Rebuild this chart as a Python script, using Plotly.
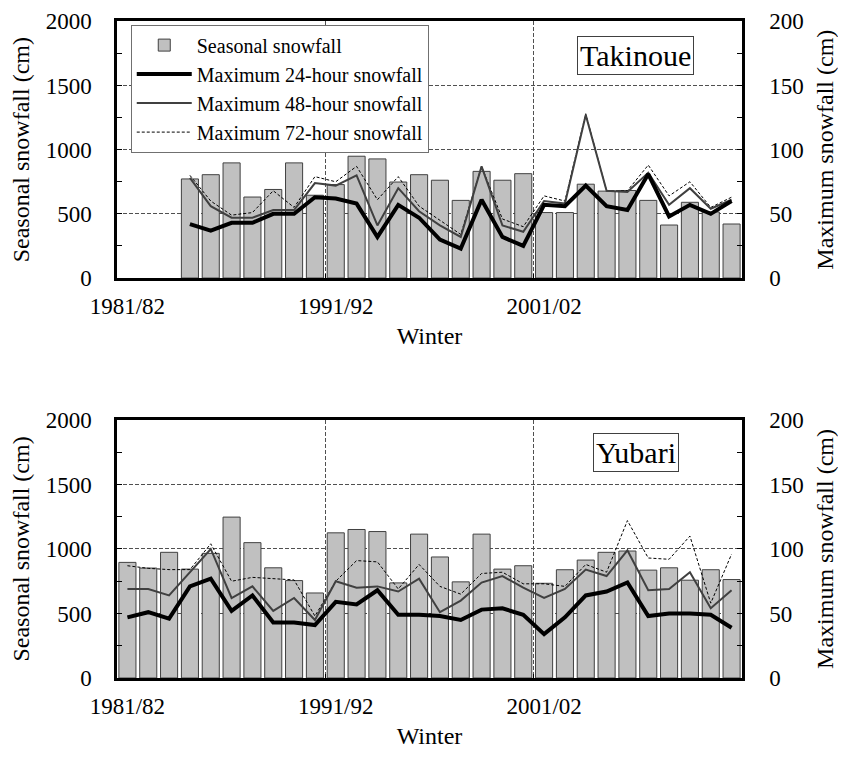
import plotly.graph_objects as go

winters = ["1981/82", "1982/83", "1983/84", "1984/85", "1985/86", "1986/87", "1987/88", "1988/89",
           "1989/90", "1990/91", "1991/92", "1992/93", "1993/94", "1994/95", "1995/96", "1996/97",
           "1997/98", "1998/99", "1999/00", "2000/01", "2001/02", "2002/03", "2003/04", "2004/05",
           "2005/06", "2006/07", "2007/08", "2008/09", "2009/10", "2010/11"]
idx = list(range(len(winters)))

# Takinoue (no record for the first three winters)
tak_season = [None, None, None, 772, 805, 897, 631, 690, 897, 645, 728, 949, 928, 748, 805,
              762, 605, 831, 762, 813, 510, 510, 731, 677, 682, 605, 413, 590, 515, 421]
tak_24h = [None, None, None, 42, 37, 43, 43, 50, 50, 63, 62, 58, 32, 57, 47,
           30, 23, 61, 32, 25, 57, 56, 72, 56, 53, 81, 48, 57, 50, 60]
tak_48h = [None, None, None, 78, 56, 47, 47, 53, 53, 74, 72, 80, 41, 70, 52,
           41, 32, 87, 41, 36, 60, 58, 127, 68, 67, 82, 57, 70, 54, 61]
tak_72h = [None, None, None, 80, 60, 49, 51, 68, 55, 79, 75, 87, 61, 79, 56,
           45, 34, 87, 46, 40, 64, 60, 128, 68, 68, 88, 64, 75, 55, 63]

# Yubari
yub_season = [896, 852, 974, 844, 966, 1247, 1049, 854, 755, 659, 1125, 1151, 1135, 737, 1115,
              938, 745, 1115, 844, 870, 734, 839, 914, 974, 984, 836, 854, 758, 839, 763]
yub_24h = [47, 51, 46, 71, 77, 52, 64, 43, 43, 41, 59, 57, 68, 49, 49,
           48, 45, 53, 54, 49, 34, 47, 64, 67, 74, 48, 50, 50, 49, 39]
yub_48h = [69, 69, 64, 82, 100, 62, 71, 52, 62, 45, 75, 70, 71, 67, 77,
           51, 60, 74, 79, 70, 62, 69, 84, 79, 99, 68, 69, 82, 54, 68]
yub_72h = [87, 85, 84, 84, 104, 75, 78, 77, 76, 48, 75, 91, 90, 69, 88,
           71, 65, 81, 82, 73, 73, 71, 88, 82, 122, 93, 92, 110, 58, 96]

FONT = "'Liberation Serif', 'Times New Roman', Times, serif"
GRID = "#505050"

fig = go.Figure()

panels = [
    (tak_season, tak_24h, tak_48h, tak_72h, "x", "y", "y2", True),
    (yub_season, yub_24h, yub_48h, yub_72h, "x2", "y3", "y4", False),
]
for season, h24, h48, h72, xa, ya, ya2, legend in panels:
    fig.add_trace(go.Bar(x=idx, y=season, width=0.82, name="Seasonal snowfall",
                         marker=dict(color="#c0c0c0", line=dict(color="#404040", width=1)),
                         xaxis=xa, yaxis=ya, showlegend=legend, legendrank=1))
    fig.add_trace(go.Scatter(x=idx, y=h72, mode="lines", name="Maximum 72-hour snowfall",
                             line=dict(color="black", width=1, dash="3px,2px"),
                             xaxis=xa, yaxis=ya2, showlegend=legend, legendrank=4))
    fig.add_trace(go.Scatter(x=idx, y=h48, mode="lines", name="Maximum 48-hour snowfall",
                             line=dict(color="#404040", width=2),
                             xaxis=xa, yaxis=ya2, showlegend=legend, legendrank=3))
    fig.add_trace(go.Scatter(x=idx, y=h24, mode="lines", name="Maximum 24-hour snowfall",
                             line=dict(color="black", width=4),
                             xaxis=xa, yaxis=ya2, showlegend=legend, legendrank=2))

tickfont = dict(family=FONT, size=23, color="black")
titlefont = dict(family=FONT, size=24, color="black")


def xaxis(anchor):
    return dict(domain=[0, 1], anchor=anchor, range=[-0.5, 29.5], showline=True, mirror=True,
                linecolor="black", linewidth=2.5, tickmode="array", tickvals=[0, 10, 20],
                ticktext=[winters[0], winters[10], winters[20]], ticks="", showgrid=False,
                zeroline=False, tickfont=tickfont, ticklabelstandoff=6,
                minor=dict(tickmode="array", tickvals=[9.5, 19.5], ticks="inside", ticklen=4,
                           tickcolor="black", showgrid=True, gridcolor=GRID, griddash="4px,2px",
                           gridwidth=1),
                title=dict(text="Winter", font=titlefont, standoff=9), automargin=False)


def yleft(domain, anchor):
    return dict(domain=domain, anchor=anchor, range=[0, 2000], dtick=500, ticks="inside",
                ticklen=5, tickcolor="black", showline=True, linecolor="black", linewidth=2.5,
                showgrid=True, gridcolor=GRID, griddash="4px,2px", gridwidth=1, zeroline=False,
                tickfont=tickfont, ticklabelstandoff=18, ticklabeloverflow="allow",
                minor=dict(dtick=250, ticks="inside", ticklen=5, tickcolor="black", showgrid=False),
                title=dict(text="Seasonal snowfall (cm)", font=titlefont, standoff=11),
                automargin=False)


def yright(over, anchor):
    return dict(overlaying=over, anchor=anchor, side="right", range=[0, 200], dtick=50,
                ticks="inside", ticklen=5, tickcolor="black", showline=True, linecolor="black",
                linewidth=2.5, showgrid=False, zeroline=False, tickfont=tickfont,
                ticklabelstandoff=20, ticklabeloverflow="allow",
                minor=dict(dtick=25, ticks="inside", ticklen=5, tickcolor="black", showgrid=False),
                title=dict(text="Maximum snowfall (cm)", font=titlefont, standoff=14),
                automargin=False)


fig.update_layout(
    template="none",
    width=838, height=749,
    margin=dict(l=109, r=104, t=10, b=79),
    paper_bgcolor="white", plot_bgcolor="white",
    font=dict(family=FONT, size=24, color="black"),
    barmode="overlay",
    xaxis=xaxis("y"),
    yaxis=yleft([0.606, 0.995], "x"),
    yaxis2=yright("y", "x"),
    xaxis2=xaxis("y3"),
    yaxis3=yleft([0.0, 0.391], "x2"),
    yaxis4=yright("y3", "x2"),
    legend=dict(x=0.022, y=0.99, xanchor="left", yanchor="top", bgcolor="white",
                bordercolor="#707070", borderwidth=1, font=dict(family=FONT, size=20),
                itemwidth=55, tracegroupgap=0),
    annotations=[
        dict(text="Takinoue", xref="x domain", yref="y domain", x=0.83, y=0.867,
             xanchor="center", yanchor="middle", showarrow=False, bgcolor="white",
             bordercolor="#404040", borderwidth=1, borderpad=2,
             font=dict(family=FONT, size=30, color="black")),
        dict(text="Yubari", xref="x2 domain", yref="y3 domain", x=0.831, y=0.872,
             xanchor="center", yanchor="middle", showarrow=False, bgcolor="white",
             bordercolor="#404040", borderwidth=1, borderpad=2,
             font=dict(family=FONT, size=30, color="black")),
    ],
)

fig.write_html("out.html")
